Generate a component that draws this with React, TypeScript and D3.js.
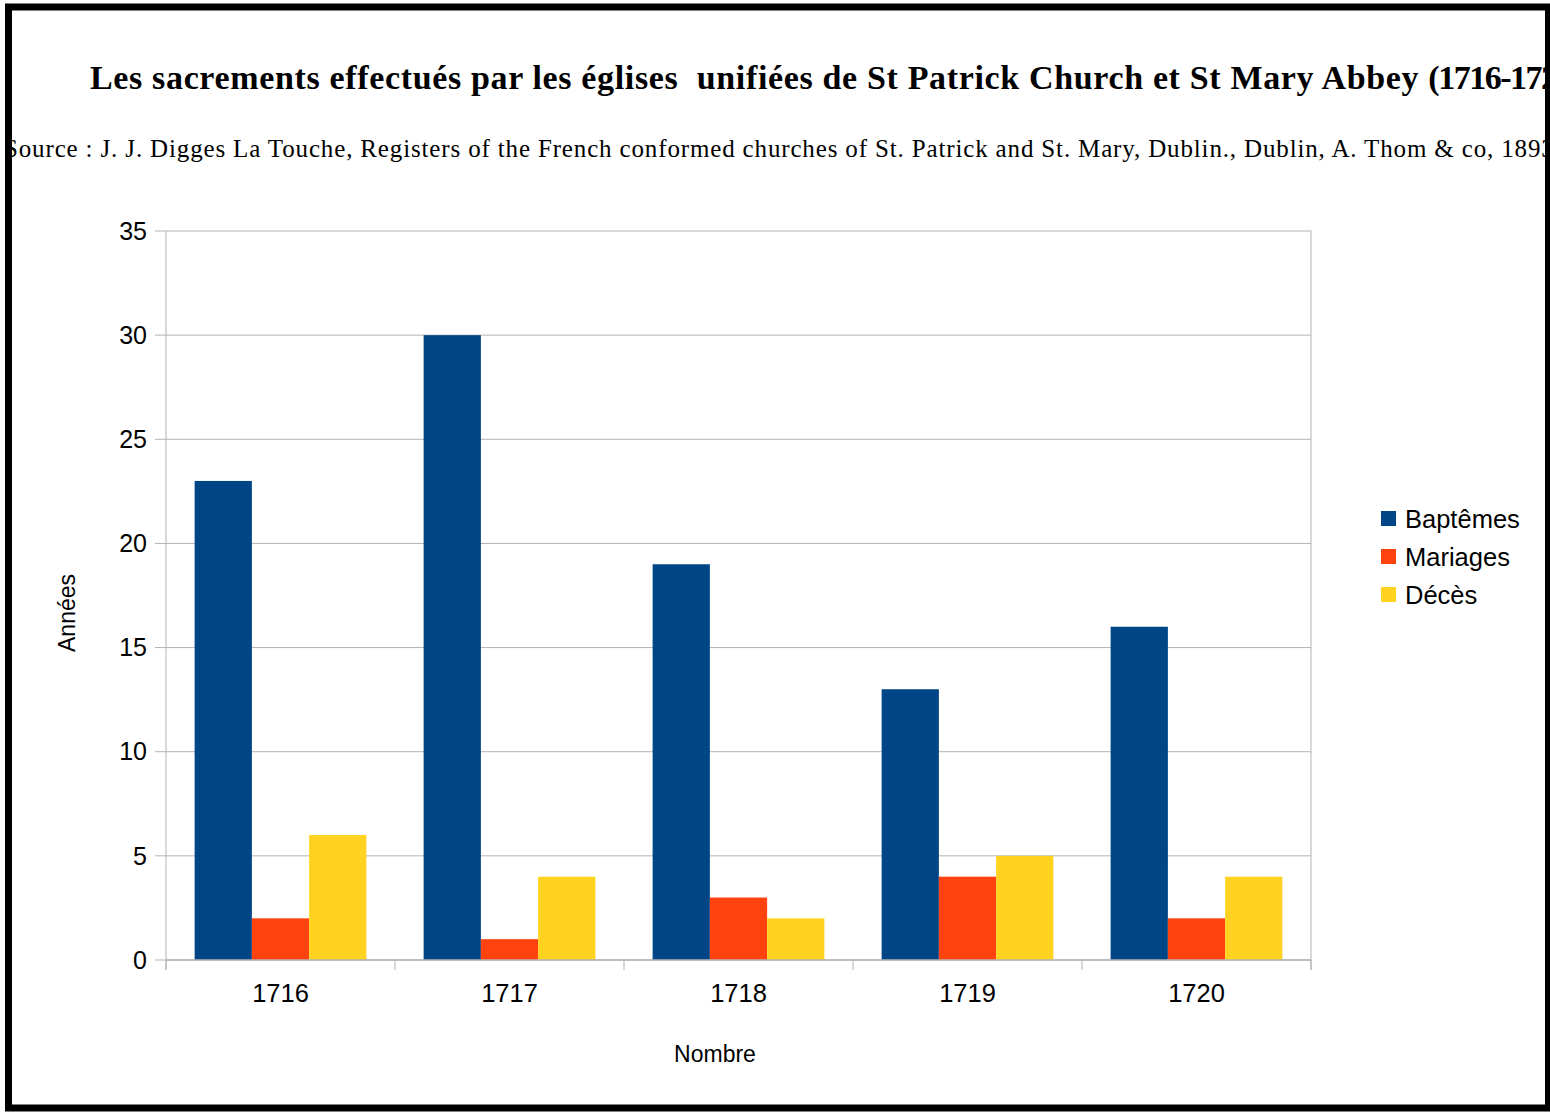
import React from "react";
import * as d3 from "d3";

const years = ["1716", "1717", "1718", "1719", "1720"];
const seriesNames = ["Baptêmes", "Mariages", "Décès"];
const baptemes = [23, 30, 19, 13, 16];
const mariages = [2, 1, 3, 4, 2];
const deces = [6, 4, 2, 5, 4];
const yTicks = [0, 5, 10, 15, 20, 25, 30, 35];
const colors = ["#004586", "#ff420e", "#ffd320"];

const W = 1550;
const H = 1112;
const plot = { left: 166, right: 1311, top: 231, bottom: 960 };

export default function App() {
  const series = [baptemes, mariages, deces];
  const x0 = d3.scaleBand<string>().domain(years).range([plot.left, plot.right]).paddingInner(0).paddingOuter(0);
  const x1 = d3
    .scaleBand<string>()
    .domain(seriesNames)
    .range([0, x0.bandwidth()])
    .paddingInner(0)
    .paddingOuter(0.5);
  const y = d3.scaleLinear().domain([0, 35]).range([plot.bottom, plot.top]);
  const sans = "'Liberation Sans', Arial, sans-serif";
  const serif = "'Liberation Serif', 'Times New Roman', serif";
  const grid = "#b3b3b3";
  const boundaries = [...years.map((yr) => x0(yr)!), plot.right];

  return (
    <svg width={W} height={H} style={{ position: "absolute", left: 0, top: 0 }}>
      <rect x={0} y={0} width={W} height={H} fill="#fff" />
      <text x={90} y={89} fontFamily={serif} fontWeight="bold" fontSize={34} fill="#000" style={{ whiteSpace: "pre" }}>
        <tspan letterSpacing={0.65}>Les sacrements effectués par les églises  unifiées de St Patrick Church et St Mary Abbey </tspan>
        <tspan letterSpacing={-1.5}>(1716-1720)</tspan>
      </text>
      <text x={4} y={157} fontFamily={serif} fontSize={25} letterSpacing={0.85} fill="#000">
        Source : J. J. Digges La Touche, Registers of the French conformed churches of St. Patrick and St. Mary, Dublin., Dublin, A. Thom &amp; co, 1893
      </text>

      {yTicks.map((t) => (
        <g key={t}>
          <line x1={plot.left - 11} x2={plot.right} y1={y(t)} y2={y(t)} stroke={grid} strokeWidth={1} />
          <text x={147} y={y(t)} dy="0.35em" textAnchor="end" fontFamily={sans} fontSize={25} fill="#000">
            {t}
          </text>
        </g>
      ))}
      <line x1={plot.left} x2={plot.left} y1={plot.top} y2={plot.bottom + 10} stroke={grid} strokeWidth={1} />
      <line x1={plot.right} x2={plot.right} y1={plot.top} y2={plot.bottom + 10} stroke={grid} strokeWidth={1} />
      {boundaries.map((b, i) => (
        <line key={i} x1={b} x2={b} y1={plot.bottom} y2={plot.bottom + 10} stroke={grid} strokeWidth={1} />
      ))}

      {years.map((yr, i) => (
        <g key={yr} transform={`translate(${x0(yr)},0)`}>
          {series.map((s, j) => (
            <rect
              key={j}
              x={x1(seriesNames[j])!}
              y={y(s[i])}
              width={x1.bandwidth()}
              height={y(0) - y(s[i])}
              fill={colors[j]}
            />
          ))}
          <text x={x0.bandwidth() / 2} y={1002} textAnchor="middle" fontFamily={sans} fontSize={25.5} fill="#000">
            {yr}
          </text>
        </g>
      ))}
      <line x1={plot.left} x2={plot.right} y1={plot.bottom} y2={plot.bottom} stroke={grid} strokeWidth={1.5} />

      <text x={715} y={1062} textAnchor="middle" fontFamily={sans} fontSize={23} fill="#000">
        Nombre
      </text>
      <text
        transform={`translate(75,613) rotate(-90)`}
        textAnchor="middle"
        fontFamily={sans}
        fontSize={23}
        fill="#000"
      >
        Années
      </text>

      {seriesNames.map((n, j) => (
        <g key={n} transform={`translate(1381,${511 + j * 38})`}>
          <rect x={0} y={0} width={15} height={15} fill={colors[j]} />
          <text x={24} y={8} dy="0.35em" fontFamily={sans} fontSize={25.5} fill="#000">
            {n}
          </text>
        </g>
      ))}

      <rect x={8.5} y={7} width={1540} height={1101} fill="none" stroke="#000" strokeWidth={7} />
    </svg>
  );
}
